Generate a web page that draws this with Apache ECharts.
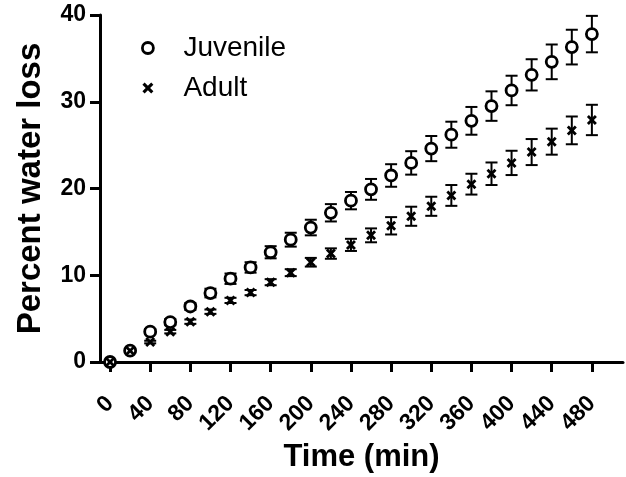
<!DOCTYPE html>
<html>
<head>
<meta charset="utf-8">
<script src="https://cdn.jsdelivr.net/npm/echarts@6/dist/echarts.min.js"></script>
<style>
html,body{margin:0;padding:0;background:#fff;}
#chart{width:626px;height:477px;}
</style>
</head>
<body>
<div id="chart"></div>
<script>
const times = [0,20,40,60,80,100,120,140,160,180,200,220,240,260,280,300,320,340,360,380,400,420,440,460,480];
const juvenile = [0,1.3,3.5,4.6,6.4,7.95,9.6,10.9,12.65,14.1,15.5,17.2,18.6,19.9,21.5,22.95,24.6,26.2,27.8,29.5,31.3,33.1,34.6,36.3,37.8];
const juvenileErr = [0.1,0.2,0.3,0.35,0.4,0.5,0.6,0.6,0.7,0.8,0.9,1.0,1.0,1.2,1.3,1.35,1.45,1.5,1.6,1.7,1.7,1.8,2.0,2.0,2.1];
const adult = [0,1.3,2.3,3.5,4.65,5.8,7.1,8.0,9.2,10.3,11.5,12.5,13.5,14.6,15.7,16.8,17.95,19.2,20.5,21.7,22.95,24.2,25.4,26.7,27.9];
const adultErr = [0.05,0.1,0.15,0.2,0.25,0.25,0.3,0.3,0.35,0.4,0.5,0.6,0.7,0.8,1.0,1.1,1.1,1.2,1.2,1.3,1.4,1.5,1.5,1.6,1.75];
const xTicks = [0,40,80,120,160,200,240,280,320,360,400,440,480];

const FONT = 'Liberation Sans, Arial, sans-serif';
const xPath = 'path://M0,2 L2,0 L5,3 L8,0 L10,2 L7,5 L10,8 L8,10 L5,7 L2,10 L0,8 L3,5 Z';

function errItem(params, api) {
  const x = api.value(0), y = api.value(1), e = api.value(2);
  const top = api.coord([x, y + e]);
  const bot = api.coord([x, y - e]);
  const hw = 6;
  const st = {stroke: '#000', lineWidth: 2};
  return {type: 'group', children: [
    {type: 'line', shape: {x1: top[0], y1: top[1], x2: bot[0], y2: bot[1]}, style: st},
    {type: 'line', shape: {x1: top[0] - hw, y1: top[1], x2: top[0] + hw, y2: top[1]}, style: st},
    {type: 'line', shape: {x1: bot[0] - hw, y1: bot[1], x2: bot[0] + hw, y2: bot[1]}, style: st}
  ]};
}

const chart = echarts.init(document.getElementById('chart'));
chart.setOption({
  animation: false,
  backgroundColor: '#fff',
  grid: {left: 100, right: 3, top: 15, bottom: 115, containLabel: false, outerBoundsMode: 'none'},
  legend: {
    orient: 'vertical',
    left: 136,
    top: 28,
    itemWidth: 11,
    itemHeight: 11,
    itemGap: 10,
    textStyle: {fontFamily: FONT, fontSize: 28, color: '#000', lineHeight: 30, padding: [0, 0, 0, 25]},
    data: [
      {name: 'Juvenile', icon: 'circle', itemStyle: {color: '#fff', borderColor: '#000', borderWidth: 2.8}},
      {name: 'Adult', icon: xPath, itemStyle: {color: '#000', borderWidth: 0}}
    ]
  },
  xAxis: {
    type: 'value',
    min: -10,
    max: 511,
    name: 'Time (min)',
    nameLocation: 'middle',
    nameGap: 62,
    nameTextStyle: {fontFamily: FONT, fontSize: 31, fontWeight: 'bold', color: '#000'},
    axisLine: {show: true, onZero: false, lineStyle: {color: '#000', width: 3}},
    axisTick: {show: true, length: 10, lineStyle: {color: '#000', width: 3}, customValues: xTicks},
    axisLabel: {customValues: xTicks, rotate: 45, margin: 38, fontFamily: FONT, fontSize: 23, fontWeight: 'bold', color: '#000'},
    splitLine: {show: false}
  },
  yAxis: {
    type: 'value',
    min: 0,
    max: 40,
    interval: 10,
    name: 'Percent water loss',
    nameLocation: 'middle',
    nameGap: 53,
    nameTextStyle: {fontFamily: FONT, fontSize: 33, fontWeight: 'bold', color: '#000'},
    axisLine: {show: true, onZero: false, lineStyle: {color: '#000', width: 3}},
    axisTick: {show: true, length: 10, lineStyle: {color: '#000', width: 3}},
    axisLabel: {margin: 14, fontFamily: FONT, fontSize: 23, fontWeight: 'bold', color: '#000'},
    splitLine: {show: false}
  },
  series: [
    {
      type: 'custom', name: 'JuvenileErr', renderItem: errItem, z: 2,
      data: times.map((t, i) => [t, juvenile[i], juvenileErr[i]])
    },
    {
      type: 'custom', name: 'AdultErr', renderItem: errItem, z: 2,
      data: times.map((t, i) => [t, adult[i], adultErr[i]])
    },
    {
      type: 'scatter', name: 'Juvenile', symbol: 'circle', symbolSize: 11, z: 3,
      itemStyle: {color: '#fff', borderColor: '#000', borderWidth: 2.8, opacity: 1},
      data: times.map((t, i) => [t, juvenile[i]])
    },
    {
      type: 'scatter', name: 'Adult', symbol: xPath, symbolSize: 10, z: 4,
      itemStyle: {color: '#000', opacity: 1},
      data: times.map((t, i) => [t, adult[i]])
    }
  ]
});
</script>
</body>
</html>
